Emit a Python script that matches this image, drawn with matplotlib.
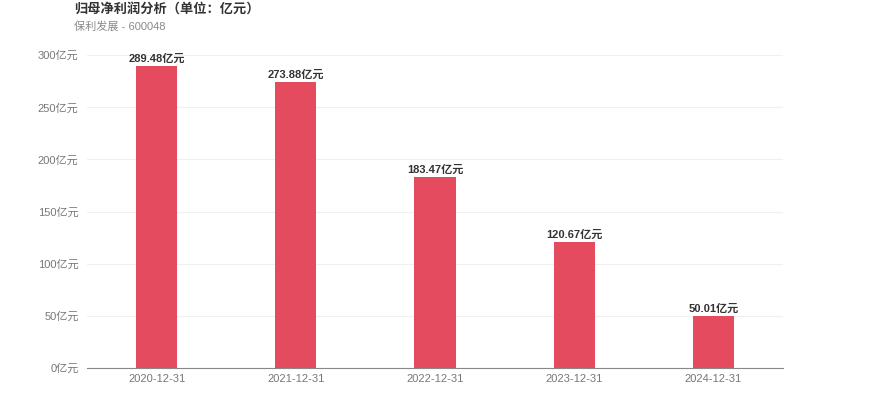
import matplotlib.pyplot as plt

plt.rcParams['font.family'] = ['Liberation Sans', 'Noto Sans CJK SC', 'DejaVu Sans']

dates = ['2020-12-31', '2021-12-31', '2022-12-31', '2023-12-31', '2024-12-31']
profit = [289.48, 273.88, 183.47, 120.67, 50.01]
yticks = [0, 50, 100, 150, 200, 250, 300]

fig = plt.figure(figsize=(8.7, 4.17), dpi=100)
ax = fig.add_axes([0.1, 0.1175, 0.8, 0.7505])

x = range(len(dates))
ax.bar(x, profit, width=0.295, color='#E54B5E', zorder=2)
for i, v in enumerate(profit):
    ax.text(i, v + 2, f'{v:.2f}亿元', ha='center', va='bottom',
            fontsize=8, fontweight='bold', color='#333333')

ax.set_xlim(-0.5, len(dates) - 0.5)
ax.set_ylim(0, 300)
ax.set_xticks(list(x))
ax.set_xticklabels(dates)
ax.set_yticks(yticks)
ax.set_yticklabels([f'{t}亿元' for t in yticks])
ax.tick_params(axis='both', length=0, labelsize=8, labelcolor='#777777')
ax.tick_params(axis='y', pad=6)
ax.tick_params(axis='x', pad=4)
ax.grid(axis='y', color='#F0F0F0', linewidth=0.8, zorder=0)
for s in ['top', 'right', 'left']:
    ax.spines[s].set_visible(False)
ax.spines['bottom'].set_color('#888888')

fig.text(74 / 870, 1 - 9 / 417, '归母净利润分析（单位：亿元）', fontsize=9.5,
         fontweight='bold', color='#333333', va='center')
fig.text(74 / 870, 1 - 27 / 417, '保利发展 - 600048', fontsize=8,
         color='#888888', va='center')

fig.savefig('out.png', dpi=100)
